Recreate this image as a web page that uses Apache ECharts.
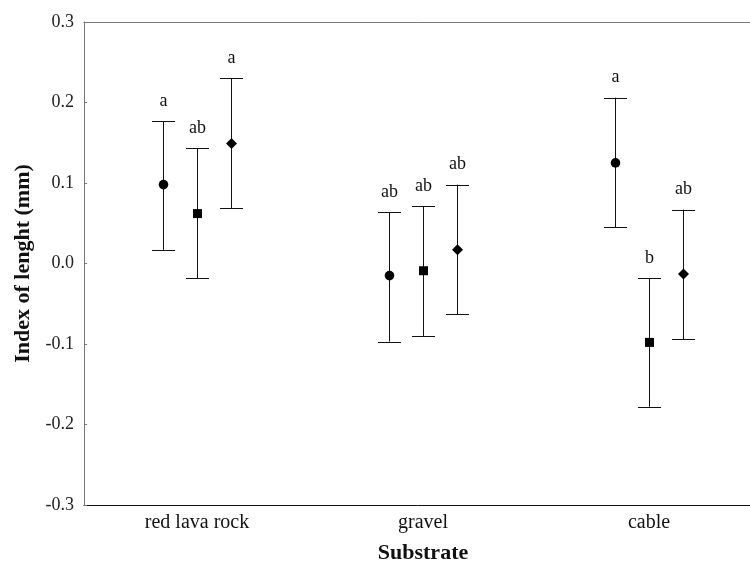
<!DOCTYPE html>
<html>
<head>
<meta charset="utf-8">
<script src="https://cdn.jsdelivr.net/npm/echarts@6/dist/echarts.min.js"></script>
<style>html,body{margin:0;padding:0;background:#fff;overflow:hidden}#c{width:750px;height:563px}</style>
</head>
<body>
<div id="c"></div>
<script>
var categories = ['red lava rock', 'gravel', 'cable'];
var yTicks = [-0.3, -0.2, -0.1, 0.0, 0.1, 0.2, 0.3];

var circleMean  = [0.098, -0.015, 0.125];
var circleLower = [0.017, -0.097, 0.045];
var circleUpper = [0.177, 0.064, 0.206];
var circleLetters = ['a', 'ab', 'a'];

var squareMean  = [0.062, -0.009, -0.098];
var squareLower = [-0.018, -0.090, -0.178];
var squareUpper = [0.143, 0.071, -0.018];
var squareLetters = ['ab', 'ab', 'b'];

var diamondMean  = [0.149, 0.017, -0.013];
var diamondLower = [0.069, -0.063, -0.094];
var diamondUpper = [0.230, 0.098, 0.067];
var diamondLetters = ['a', 'ab', 'ab'];

var groups = [
  {name: 'circle', shape: 'circle', offset: -0.15, mean: circleMean, lower: circleLower, upper: circleUpper, letters: circleLetters},
  {name: 'square', shape: 'square', offset: 0, mean: squareMean, lower: squareLower, upper: squareUpper, letters: squareLetters},
  {name: 'diamond', shape: 'diamond', offset: 0.15, mean: diamondMean, lower: diamondLower, upper: diamondUpper, letters: diamondLetters}
];

var serif = '"Liberation Serif", "Times New Roman", serif';
var lineColor = '#111';

function makeRender(g) {
  return function (params, api) {
    var i = api.value(0);
    var pm = api.coord([i, api.value(1)]);
    var pl = api.coord([i, api.value(2)]);
    var pu = api.coord([i, api.value(3)]);
    var bw = api.size([1, 0])[0];
    var x = Math.round(pm[0] + g.offset * bw) + 0.5;
    var capHalf = 11.5;
    var style = {stroke: lineColor, lineWidth: 1};
    var children = [
      {type: 'line', shape: {x1: x, y1: pu[1], x2: x, y2: pl[1]}, style: style},
      {type: 'line', shape: {x1: x - capHalf, y1: Math.round(pu[1]) + 0.5, x2: x + capHalf, y2: Math.round(pu[1]) + 0.5}, style: style},
      {type: 'line', shape: {x1: x - capHalf, y1: Math.round(pl[1]) + 0.5, x2: x + capHalf, y2: Math.round(pl[1]) + 0.5}, style: style},
      {type: 'text', x: x, y: pu[1] - 11, style: {text: g.letters[params.dataIndex], fill: '#111', font: '18px ' + serif, align: 'center', verticalAlign: 'bottom'}}
    ];
    var y = pm[1];
    if (g.shape === 'circle') {
      children.push({type: 'circle', shape: {cx: x, cy: y, r: 4.8}, style: {fill: '#000'}});
    } else if (g.shape === 'square') {
      children.push({type: 'rect', shape: {x: x - 4.5, y: y - 4.5, width: 9, height: 9}, style: {fill: '#000'}});
    } else {
      children.push({type: 'polygon', shape: {points: [[x, y - 5.5], [x + 5.5, y], [x, y + 5.5], [x - 5.5, y]]}, style: {fill: '#000'}});
    }
    return {type: 'group', children: children};
  };
}

var series = groups.map(function (g) {
  return {
    type: 'custom',
    name: g.name,
    renderItem: makeRender(g),
    encode: {x: 0, y: [1, 2, 3]},
    data: categories.map(function (c, i) { return [i, g.mean[i], g.lower[i], g.upper[i]]; }),
    z: 3
  };
});

var chart = echarts.init(document.getElementById('c'));
chart.setOption({
  animation: false,
  backgroundColor: '#fff',
  grid: {left: 84, width: 678, top: 22, height: 483, containLabel: false, outerBoundsMode: 'none'},
  xAxis: [{
    type: 'category',
    data: categories,
    position: 'bottom',
    name: 'Substrate',
    nameLocation: 'middle',
    nameGap: 37,
    nameTextStyle: {fontFamily: serif, fontWeight: 'bold', fontSize: 22, color: '#111'},
    axisLine: {onZero: false, lineStyle: {color: '#111', width: 1}},
    axisTick: {inside: true, length: 3, alignWithLabel: true, lineStyle: {color: '#111'}},
    axisLabel: {fontFamily: serif, fontSize: 20, color: '#111', margin: 8},
    splitLine: {show: false}
  }, {
    type: 'category',
    data: categories,
    position: 'top',
    axisLine: {onZero: false, lineStyle: {color: '#777', width: 1}},
    axisTick: {inside: true, length: 3, alignWithLabel: true, lineStyle: {color: '#777'}},
    axisLabel: {show: false},
    splitLine: {show: false}
  }],
  yAxis: {
    type: 'value',
    min: yTicks[0],
    max: yTicks[yTicks.length - 1],
    interval: 0.1,
    name: 'Index of lenght (mm)',
    nameLocation: 'middle',
    nameGap: 49,
    nameTextStyle: {fontFamily: serif, fontWeight: 'bold', fontSize: 22, color: '#111'},
    axisLine: {show: true, onZero: false, lineStyle: {color: '#777', width: 1}},
    axisTick: {show: true, inside: true, length: 3, lineStyle: {color: '#777'}},
    axisLabel: {fontFamily: serif, fontSize: 18, color: '#222', margin: 10,
      formatter: function (v) { return Math.abs(v) < 1e-9 ? '0.0' : v.toFixed(1); }},
    splitLine: {show: false}
  },
  series: series
});
</script>
</body>
</html>
